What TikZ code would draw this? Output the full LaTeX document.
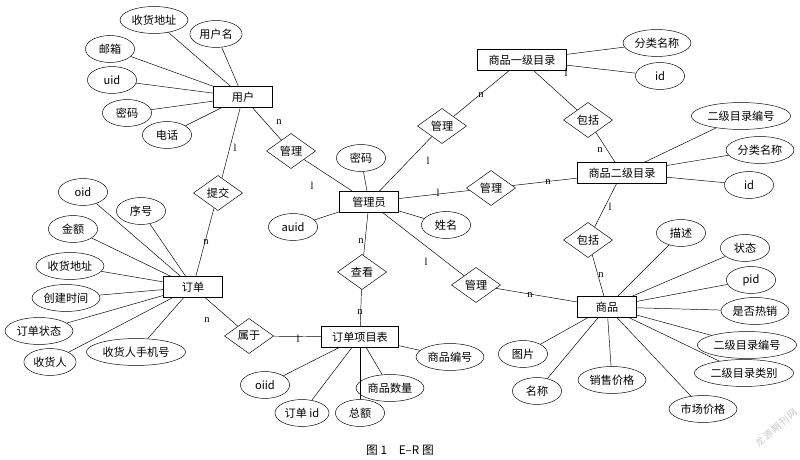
\documentclass[tikz,border=0pt]{standalone}
\usepackage{fontspec}
\setmainfont{Liberation Serif}
\newfontfamily\cjk{Noto Sans CJK SC}
\usetikzlibrary{shapes.geometric}
\begin{document}
\begin{tikzpicture}[x=0.03cm,y=-0.03cm,font=\cjk\fontsize{9.5}{11}\selectfont,
 ent/.style={draw,rectangle,minimum width=50pt,minimum height=18pt,inner sep=2pt},
 rel/.style={draw,diamond,aspect=1.45,inner sep=1pt,minimum width=42pt,minimum height=30pt},
 attr/.style={draw,ellipse,inner sep=1.5pt,minimum height=23pt,minimum width=42pt},
 lab/.style={inner sep=1pt,font=\fontsize{9}{10}\selectfont}]
\useasboundingbox (0,0) rectangle (800,460);
% entities
\node[ent] (yh) at (243,97) {用户};
\node[ent] (gly) at (369,202) {管理员};
\node[ent] (dd) at (193,287) {订单};
\node[ent,minimum width=66pt] (xm) at (360,337) {订单项目表};
\node[ent,minimum width=76pt] (c1) at (522,60) {商品一级目录};
\node[ent,minimum width=76pt] (c2) at (622,173) {商品二级目录};
\node[ent] (sp) at (607,307) {商品};
% relations
\node[rel] (r1) at (291,151) {管理};
\node[rel] (r2) at (218,193) {提交};
\node[rel] (r3) at (442,126) {管理};
\node[rel] (r4) at (491,188) {管理};
\node[rel] (r5) at (476,285) {管理};
\node[rel] (r6) at (362,272) {查看};
\node[rel] (r7) at (249,336) {属于};
\node[rel] (r8) at (588,120) {包括};
\node[rel] (r9) at (588,240) {包括};
\foreach \a/\b in {yh/r1,r1/gly,yh/r2,r2/dd,gly/r3,r3/c1,gly/r4,r4/c2,gly/r5,r5/sp,gly/r6,r6/xm,dd/r7,r7/xm,c1/r8,r8/c2,c2/r9,r9/sp}
  \draw (\a) -- (\b);
% cardinalities
\node[lab] at (279,122) {n}; \node[lab] at (312,186) {l};
\node[lab] at (235,148) {l}; \node[lab] at (206,242) {n};
\node[lab] at (481,95) {n}; \node[lab] at (428,161) {l};
\node[lab] at (438,193) {l}; \node[lab] at (548,182) {n};
\node[lab] at (426,262) {l}; \node[lab] at (530,295) {n};
\node[lab] at (361,241) {n}; \node[lab] at (360,312) {n};
\node[lab] at (207,320) {n}; \node[lab] at (298,339) {l};
\node[lab] at (566,73) {l}; \node[lab] at (600,150) {n};
\node[lab] at (610,207) {l}; \node[lab] at (601,275) {n};
% attributes
\foreach \n/\p/\t/\e in {
 a1/{(154,20)}/收货地址/yh, a2/{(216,34)}/用户名/yh, a3/{(110,49)}/邮箱/yh, a4/{(112,80)}/uid/yh, a5/{(127,113)}/密码/yh, a6/{(167,135)}/电话/yh,
 b1/{(361,158)}/密码/gly, b2/{(293,227)}/auid/gly, b3/{(446,225)}/姓名/gly,
 d1/{(83,192)}/oid/dd, d2/{(141,211)}/序号/dd, d3/{(73,229)}/金额/dd, d4/{(70,266)}/收货地址/dd, d5/{(66,298)}/创建时间/dd, d6/{(39,331)}/订单状态/dd, d7/{(136,352)}/收货人手机号/dd, d8/{(50,362)}/收货人/dd,
 x1/{(265,385)}/oiid/xm, x2/{(302,413)}/订单 id/xm, x3/{(360,413)}/总额/xm, x4/{(390,388)}/商品数量/xm, x5/{(450,357)}/商品编号/xm,
 e1/{(657,43)}/分类名称/c1, e2/{(660,76)}/id/c1,
 f1/{(741,116)}/二级目录编号/c2, f2/{(760,150)}/分类名称/c2, f3/{(749,185)}/id/c2,
 g1/{(681,233)}/描述/sp, g2/{(745,248)}/状态/sp, g3/{(751,280)}/pid/sp, g4/{(755,311)}/是否热销/sp, g5/{(747,345)}/二级目录编号/sp, g6/{(744,373)}/二级目录类别/sp, g7/{(703,409)}/市场价格/sp, g8/{(523,354)}/图片/sp, g9/{(537,391)}/名称/sp, g10/{(612,380)}/销售价格/sp}
 { \node[attr] (\n) at \p {\t}; \draw (\n) -- (\e); }
\node[font=\cjk\fontsize{10}{12}\selectfont] (cap) at (400,450) {图 1\quad E–R 图};
\foreach \c [count=\i] in {龙,源,期,刊,网}
  \node[rotate=40,text=gray!45,inner sep=0pt,font=\cjk\fontsize{8}{9}\selectfont] (w\i) at ({752+8*\i},{449-7*\i}) {\c};
\end{tikzpicture}
\end{document}
